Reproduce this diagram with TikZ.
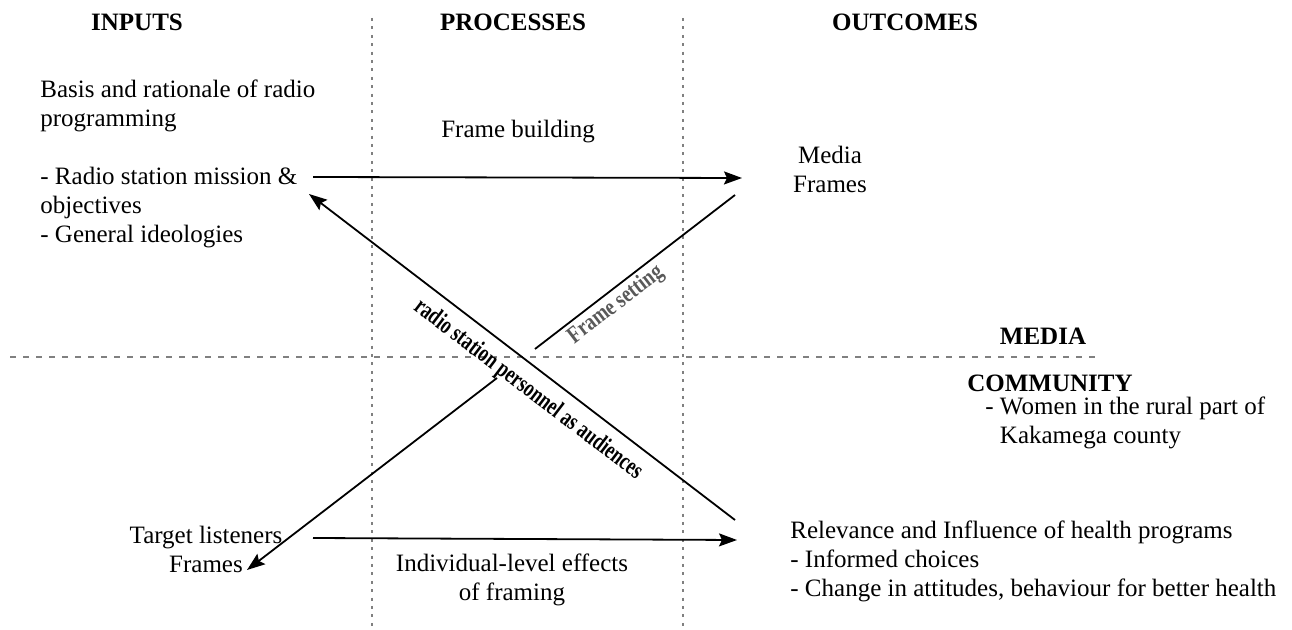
\documentclass[tikz,border=0pt]{standalone}
\usepackage{fontspec}
\setmainfont{Liberation Serif}
\usetikzlibrary{arrows.meta}

\tikzset{
  txt/.style={font=\fontsize{12.5}{14.5}\selectfont, align=left, inner sep=0pt},
  head/.style={font=\bfseries\fontsize{12.5}{14.5}\selectfont, inner sep=0pt},
  slant/.style={font=\bfseries\fontsize{12.5}{14.5}\selectfont, inner sep=0pt},
  vsep/.style={gray, line width=1pt, dash pattern=on 1.5pt off 2.7pt},
  hsep/.style={gray, line width=1pt, dash pattern=on 3pt off 3.5pt},
  flow/.style={line width=0.9pt, -{Stealth[length=9pt,width=6.5pt,inset=1.5pt]}},
}

\begin{document}
\begin{tikzpicture}[x=0.5pt,y=-0.5pt]
\useasboundingbox (0,0) rectangle (1292,630);

% column and row separators
\draw[vsep] (372,18) -- (372,630);
\draw[vsep] (683,18) -- (683,630);
\draw[hsep] (10,357) -- (1095,357);

% headings
\node[head] (inputs) at (137,22) {INPUTS};
\node[head] (processes) at (513,22) {PROCESSES};
\node[head] (outcomes) at (905,22) {OUTCOMES};
\node[head] (media) at (1043,336) {MEDIA};
\node[head] (community) at (1050,383) {COMMUNITY};

% text blocks
\node[txt, anchor=west] (basis) at (40,164) {Basis and rationale of radio\\programming\\[14.5pt]- Radio station mission \&\\objectives\\- General ideologies};
\node[txt, align=center] (frames) at (830,169) {Media\\Frames};
\node[txt, align=center] (target) at (206,549) {Target listeners\\Frames};
\node[txt] (building) at (518,132) {Frame building};
\node[txt, align=center] (effects) at (512,580) {Individual-level effects\\of framing};
\node[txt, anchor=west] (women) at (985,423) {- Women in the rural part of\\\phantom{- }Kakamega county};
\node[txt, anchor=west] (relevance) at (790,561) {Relevance and Influence of health programs\\- Informed choices\\- Change in attitudes, behaviour for better health};

% arrow end points
\coordinate (b1) at (313,177);
\coordinate (f1) at (742,178);
\coordinate (f2) at (735,195);
\coordinate (x1) at (535,349);
\coordinate (x2) at (497,378);
\coordinate (t1) at (247,570);
\coordinate (t2) at (313,538);
\coordinate (r1) at (737,540);
\coordinate (r2) at (735,520);
\coordinate (b2) at (309,194);

\draw[flow] (b1) -- (f1);
\draw[line width=0.9pt] (f2) -- (x1);
\draw[flow] (x2) -- (t1);
\draw[flow] (t2) -- (r1);
\draw[flow] (r2) -- (b2);

\node[slant, rotate=-37.4] (personnel) at (528,390) {\scalebox{0.73}[1]{radio station personnel as audiences}};
\node[slant, rotate=37.5, text=black!65, font=\bfseries\fontsize{12}{14}\selectfont] (setting) at (616,305) {\scalebox{0.8}[1]{Frame setting}};
\end{tikzpicture}
\end{document}
